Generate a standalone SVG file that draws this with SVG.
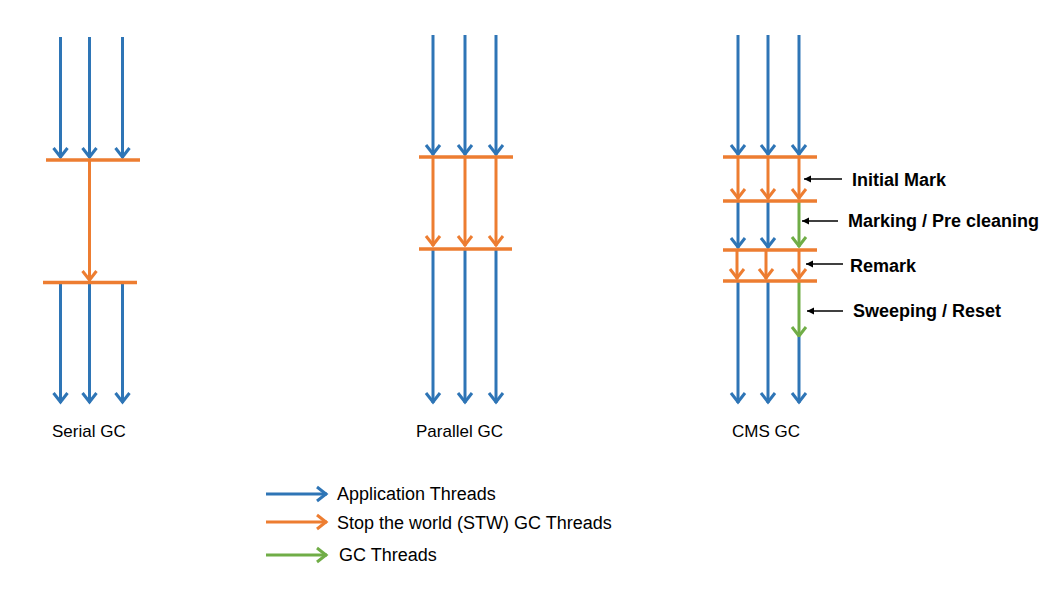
<svg xmlns="http://www.w3.org/2000/svg" width="1051" height="595" viewBox="0 0 1051 595">
<style>
.b{stroke:#2E75B6;stroke-width:3;fill:none}
.o{stroke:#ED7D31;stroke-width:3;fill:none}
.g{stroke:#70AD47;stroke-width:3;fill:none}
.bar{stroke:#ED7D31;stroke-width:3.5;fill:none}
.k{stroke:#000;stroke-width:1.3;fill:none}
.ab{marker-end:url(#mb)}
.ao{marker-end:url(#mo)}
.ag{marker-end:url(#mg)}
.ak{marker-end:url(#mk)}
text{font-family:"Liberation Sans",Arial,sans-serif;fill:#000}
.t{font-size:17px}
.l{font-size:18px}
.lb{font-size:18px;font-weight:bold}
</style>
<defs>
<marker id="mb" markerUnits="userSpaceOnUse" markerWidth="20" markerHeight="20" viewBox="0 0 20 20" refX="16" refY="10" orient="auto">
<path d="M6,3 L15,10 L6,17" fill="none" stroke="#2E75B6" stroke-width="3"/>
</marker>
<marker id="mo" markerUnits="userSpaceOnUse" markerWidth="20" markerHeight="20" viewBox="0 0 20 20" refX="16" refY="10" orient="auto">
<path d="M6,3 L15,10 L6,17" fill="none" stroke="#ED7D31" stroke-width="3"/>
</marker>
<marker id="mg" markerUnits="userSpaceOnUse" markerWidth="20" markerHeight="20" viewBox="0 0 20 20" refX="16" refY="10" orient="auto">
<path d="M6,3 L15,10 L6,17" fill="none" stroke="#70AD47" stroke-width="3"/>
</marker>
<marker id="mk" markerUnits="userSpaceOnUse" markerWidth="10" markerHeight="10" viewBox="0 0 10 10" refX="8" refY="5" orient="auto">
<path d="M1,1.5 L8,5 L1,8.5 Z" fill="#000"/>
</marker>
</defs>

<g id="connectors">
<!-- Serial GC -->
<line class="b ab" x1="60.5" y1="37" x2="60.5" y2="158"/>
<line class="b ab" x1="89.5" y1="37" x2="89.5" y2="158"/>
<line class="b ab" x1="122.5" y1="37" x2="122.5" y2="158"/>
<line class="o ao" x1="89.5" y1="160" x2="89.5" y2="281"/>
<line class="b ab" x1="60.5" y1="283" x2="60.5" y2="403"/>
<line class="b ab" x1="89.5" y1="283" x2="89.5" y2="403"/>
<line class="b ab" x1="122.5" y1="283" x2="122.5" y2="403"/>

<!-- Parallel GC -->
<line class="b ab" x1="433" y1="35" x2="433" y2="155"/>
<line class="b ab" x1="465" y1="35" x2="465" y2="155"/>
<line class="b ab" x1="496" y1="35" x2="496" y2="155"/>
<line class="o ao" x1="433" y1="157" x2="433" y2="246"/>
<line class="o ao" x1="465" y1="157" x2="465" y2="246"/>
<line class="o ao" x1="496" y1="157" x2="496" y2="246"/>
<line class="b ab" x1="433" y1="249" x2="433" y2="403"/>
<line class="b ab" x1="465" y1="249" x2="465" y2="403"/>
<line class="b ab" x1="496" y1="249" x2="496" y2="403"/>

<!-- CMS GC -->
<line class="b ab" x1="738" y1="35" x2="738" y2="155"/>
<line class="b ab" x1="768" y1="35" x2="768" y2="155"/>
<line class="b ab" x1="799" y1="35" x2="799" y2="155"/>
<line class="o ao" x1="738" y1="157" x2="738" y2="199"/>
<line class="o ao" x1="768" y1="157" x2="768" y2="199"/>
<line class="o ao" x1="799" y1="157" x2="799" y2="199"/>
<line class="b ab" x1="738" y1="201" x2="738" y2="248"/>
<line class="b ab" x1="768" y1="201" x2="768" y2="248"/>
<line class="g ag" x1="799" y1="201" x2="799" y2="247"/>
<line class="o ao" x1="737" y1="250" x2="737" y2="279"/>
<line class="o ao" x1="766" y1="250" x2="766" y2="279"/>
<line class="o ao" x1="799" y1="250" x2="799" y2="279"/>
<line class="b ab" x1="738" y1="281" x2="738" y2="403"/>
<line class="b ab" x1="768" y1="281" x2="768" y2="403"/>
<line class="g ag" x1="799" y1="281" x2="799" y2="337"/>
<line class="b ab" x1="799" y1="337" x2="799" y2="403"/>

<!-- label pointers -->
<line class="k ak" x1="842" y1="179" x2="804" y2="179"/>
<line class="k ak" x1="838" y1="221" x2="802" y2="221"/>
<line class="k ak" x1="843" y1="264" x2="806" y2="264"/>
<line class="k ak" x1="843" y1="311" x2="807" y2="311"/>
</g>

<g id="serial-gc">
<line class="bar" x1="46" y1="160" x2="140" y2="160"/>
<line class="bar" x1="43" y1="282.5" x2="137" y2="282.5"/>
<text class="t" x="52" y="437">Serial GC</text>
</g>

<g id="parallel-gc">
<line class="bar" x1="419" y1="157" x2="513" y2="157"/>
<line class="bar" x1="419" y1="249" x2="512" y2="249"/>
<text class="t" x="416" y="437">Parallel GC</text>
</g>

<g id="cms-gc">
<line class="bar" x1="723" y1="157" x2="817" y2="157"/>
<line class="bar" x1="723" y1="201" x2="817" y2="201"/>
<line class="bar" x1="723" y1="250" x2="817" y2="250"/>
<line class="bar" x1="723" y1="281" x2="817" y2="281"/>
<text class="t" x="732" y="437">CMS GC</text>
</g>

<g id="phase-labels">
<text class="lb" x="852" y="186">Initial Mark</text>
<text class="lb" x="848" y="227">Marking / Pre cleaning</text>
<text class="lb" x="850" y="272">Remark</text>
<text class="lb" x="853" y="317">Sweeping / Reset</text>
</g>

<g id="legend">
<line class="b ab" x1="266" y1="494" x2="327" y2="494"/>
<text class="l" x="337" y="500">Application Threads</text>
<line class="o ao" x1="266" y1="522" x2="327" y2="522"/>
<text class="l" x="337" y="529">Stop the world (STW) GC Threads</text>
<line class="g ag" x1="266" y1="555" x2="327" y2="555"/>
<text class="l" x="339" y="561">GC Threads</text>
</g>
</svg>
